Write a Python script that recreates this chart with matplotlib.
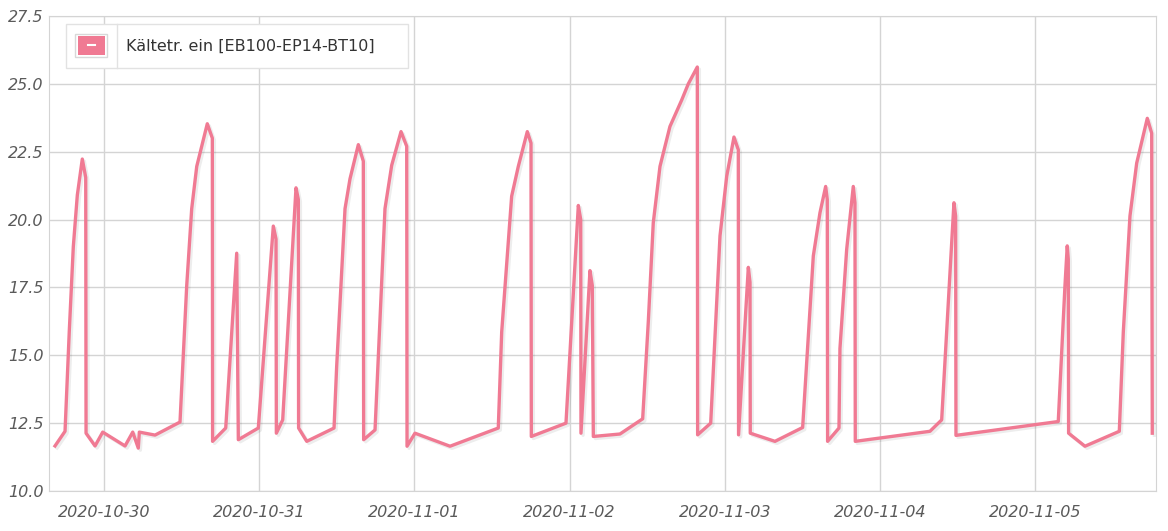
import pandas as pd
import matplotlib
matplotlib.use("Agg")
import matplotlib.pyplot as plt
import matplotlib.dates as mdates
import matplotlib.patheffects as pe
from matplotlib.patches import Rectangle

# Messwerte: Stunden ab 2020-10-30 00:00 und Temperatur
start = pd.Timestamp("2020-10-30 00:00")
hours = [-7.58, -6.03, -5.37, -4.75, -4.13, -3.36, -2.83, -2.78, -1.39, -0.20,
         3.25, 4.44, 5.30, 5.46, 7.89, 11.75, 12.79, 13.56, 14.34, 15.97,
         16.75, 16.79, 18.82, 20.52, 20.77, 23.86, 26.18, 26.60, 26.65, 27.63,
         29.69, 30.05, 30.09, 31.35, 35.57, 35.98, 37.27, 38.04, 39.33, 40.10,
         40.15, 41.91, 43.45, 44.49, 45.93, 46.81, 46.86, 48.09, 53.51, 60.97,
         61.50, 63.04, 64.07, 65.46, 66.03, 66.08, 71.44, 73.35, 73.72, 73.76,
         75.15, 75.51, 75.67, 79.79, 83.30, 84.17, 84.94, 85.98, 87.52, 89.33,
         90.36, 91.75, 91.80, 93.82, 95.26, 96.30, 97.42, 98.09, 98.13, 99.64,
         99.90, 99.94, 103.76, 108.04, 109.69, 110.72, 111.60, 111.85, 111.90, 113.66,
         113.81, 114.85, 115.87, 116.13, 116.18, 127.73, 129.54, 130.31, 131.44, 131.70,
         131.75, 147.57, 148.61, 148.96, 149.12, 149.17, 151.70, 157.01, 157.63, 158.66,
         159.70, 161.34, 162.02, 162.11]
temps = [11.66, 12.20, 15.90, 19.00, 20.90, 22.23, 21.55, 12.13, 11.66, 12.17,
         11.66, 12.17, 11.58, 12.17, 12.06, 12.54, 17.57, 20.40, 21.96, 23.53,
         23.00, 11.83, 12.32, 18.76, 11.89, 12.32, 19.76, 19.28, 12.13, 12.62,
         21.17, 20.74, 12.32, 11.83, 12.32, 14.60, 20.40, 21.50, 22.76, 22.15,
         11.89, 12.25, 20.40, 22.00, 23.24, 22.70, 11.65, 12.13, 11.65, 12.32,
         15.86, 20.86, 21.96, 23.24, 22.82, 12.01, 12.50, 20.52, 20.00, 12.13,
         18.12, 17.57, 12.01, 12.10, 12.66, 16.23, 19.88, 21.96, 23.43, 24.40,
         25.00, 25.62, 12.07, 12.50, 19.40, 21.60, 23.04, 22.57, 12.07, 18.24,
         17.69, 12.13, 11.83, 12.34, 18.66, 20.25, 21.22, 20.74, 11.83, 12.32,
         15.25, 18.90, 21.22, 20.62, 11.83, 12.20, 12.62, 15.86, 20.62, 20.13,
         12.05, 12.56, 17.57, 19.03, 18.54, 12.13, 11.65, 12.20, 15.86, 20.13,
         22.08, 23.73, 23.18, 12.13]
tick_days = ["2020-10-30", "2020-10-31", "2020-11-01", "2020-11-02",
             "2020-11-03", "2020-11-04", "2020-11-05"]
y_ticks = [10.0, 12.5, 15.0, 17.5, 20.0, 22.5, 25.0, 27.5]
label = "Kältetr. ein [EB100-EP14-BT10]"

times = start + pd.to_timedelta(hours, unit="h")
line_color = "#F07A93"
grid_color = "#D4D4D4"
text_color = "#5A5A5A"

fig = plt.figure(figsize=(11.68, 5.31), dpi=100)
ax = fig.add_axes([0.042, 0.0753, 0.9478, 0.8946])

ax.plot(times, temps, color=line_color, linewidth=2.4, solid_joinstyle="round",
        path_effects=[pe.SimpleLineShadow(offset=(1.5, -1.5), alpha=0.07), pe.Normal()])

ax.set_xlim(start + pd.Timedelta(hours=-8.5), start + pd.Timedelta(hours=162.7))
ax.set_ylim(10, 27.5)
ax.set_yticks(y_ticks)
ax.set_yticklabels([f"{v:.1f}" for v in y_ticks])
ax.set_xticks(pd.to_datetime(tick_days))
ax.xaxis.set_major_formatter(mdates.DateFormatter("%Y-%m-%d"))

ax.grid(True, color=grid_color, linewidth=1)
ax.set_axisbelow(True)
for s in ax.spines.values():
    s.set_color(grid_color)
ax.tick_params(length=0, labelcolor=text_color, labelsize=11.5)
ax.tick_params(axis="x", pad=10)
ax.tick_params(axis="y", pad=4)
for t in ax.get_xticklabels() + ax.get_yticklabels():
    t.set_fontstyle("italic")

# Legende als Kasten oben links
tr = ax.transAxes
def px_x(x):
    return (x - 49) / 1107
def px_y(y):
    return (491 - y) / 475
ax.add_patch(Rectangle((px_x(66), px_y(68)), px_x(408) - px_x(66), px_y(24) - px_y(68),
                       transform=tr, facecolor="white", edgecolor="#E2E2E2", lw=1, zorder=5))
ax.plot([px_x(116.5)] * 2, [px_y(24), px_y(68)], transform=tr, color="#E2E2E2", lw=1, zorder=6)
ax.add_patch(Rectangle((px_x(75), px_y(57.5)), px_x(107) - px_x(75), px_y(34) - px_y(57.5),
                       transform=tr, facecolor="white", edgecolor="#D8D8D8", lw=1, zorder=6))
ax.add_patch(Rectangle((px_x(77.5), px_y(55)), px_x(104.5) - px_x(77.5), px_y(36.5) - px_y(55),
                       transform=tr, facecolor=line_color, edgecolor="none", zorder=7))
ax.plot([px_x(87.5), px_x(94.5)], [px_y(45.5)] * 2, transform=tr, color="white", lw=1.5, zorder=8)
ax.text(px_x(126), px_y(46), label, transform=tr, ha="left", va="center",
        fontsize=11.5, color="#333333", zorder=8)

fig.savefig("out.png", dpi=100)
